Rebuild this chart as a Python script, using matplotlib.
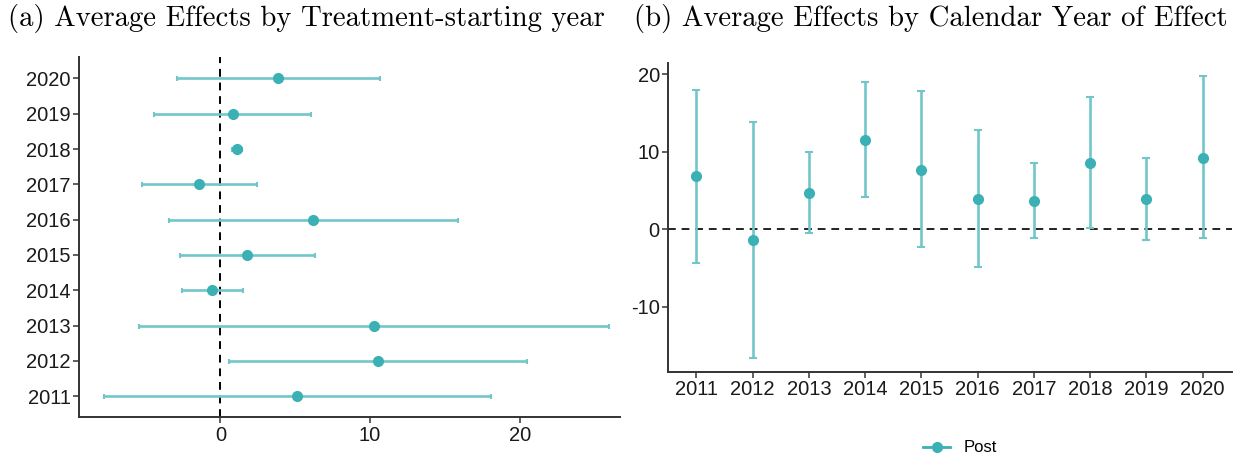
import matplotlib
matplotlib.use("Agg")
import matplotlib.pyplot as plt
from matplotlib.lines import Line2D

# ---- data: panel (a) ----
cohort_years = ["2011", "2012", "2013", "2014", "2015", "2016", "2017", "2018", "2019", "2020"]
cohort_est = [5.13, 10.53, 10.24, -0.53, 1.80, 6.22, -1.40, 1.14, 0.82, 3.87]
cohort_lo = [-7.80, 0.61, -5.45, -2.54, -2.67, -3.44, -5.21, 0.77, -4.41, -2.90]
cohort_hi = [18.07, 20.47, 25.95, 1.51, 6.33, 15.90, 2.43, 1.48, 6.09, 10.69]

# ---- data: panel (b) ----
cal_years = ["2011", "2012", "2013", "2014", "2015", "2016", "2017", "2018", "2019", "2020"]
cal_est = [6.84, -1.35, 4.65, 11.53, 7.70, 3.91, 3.66, 8.56, 3.87, 9.20]
cal_lo = [-4.30, -16.6, -0.52, 4.22, -2.35, -4.90, -1.10, 0.17, -1.40, -1.20]
cal_hi = [18.00, 13.90, 9.94, 18.97, 17.90, 12.86, 8.56, 17.10, 9.20, 19.83]

xticks_a = [0, 10, 20]
yticks_b = [-10, 0, 10, 20]

teal = "#3BB0B5"
bar_c = "#72C6CA"
axis_c = "#333333"
tick_lab_c = "#1a1a1a"
sans = ["Liberation Sans", "DejaVu Sans"]

W, H = 1240, 459
fig = plt.figure(figsize=(W / 100, H / 100), dpi=100)

def rect(l, t, r, b):
    return [l / W, 1 - b / H, (r - l) / W, (b - t) / H]

# ---------- panel (a) ----------
axa = fig.add_axes(rect(79, 57.3, 620, 417.3))
ya = list(range(len(cohort_years)))
xerr_a = [[e - lo for e, lo in zip(cohort_est, cohort_lo)],
          [hi - e for e, hi in zip(cohort_est, cohort_hi)]]
axa.axvline(0, color="black", ls=(0, (4, 3)), lw=1.4, zorder=1)
axa.errorbar(cohort_est, ya, xerr=xerr_a, fmt="none", ecolor=bar_c, elinewidth=1.9,
             capsize=1.8, capthick=1.5, zorder=2)
axa.plot(cohort_est, ya, "o", color=teal, ms=7, zorder=3)
axa.set_xlim(-9.44, 26.7)
axa.set_ylim(-0.6, 9.6)
axa.set_yticks(ya)
axa.set_yticklabels(cohort_years)
axa.set_xticks(xticks_a)
axa.set_xticklabels([str(v) for v in xticks_a])

# ---------- panel (b) ----------
axb = fig.add_axes(rect(668.2, 62.7, 1232, 371.7))
xb = list(range(len(cal_years)))
yerr_b = [[e - lo for e, lo in zip(cal_est, cal_lo)],
          [hi - e for e, hi in zip(cal_est, cal_hi)]]
axb.axhline(0, color="#222222", ls=(0, (4, 3)), lw=1.4, zorder=1)
axb.errorbar(xb, cal_est, yerr=yerr_b, fmt="none", ecolor=bar_c, elinewidth=1.9,
             capsize=3.0, capthick=1.5, zorder=2)
axb.plot(xb, cal_est, "o", color=teal, ms=7, zorder=3)
axb.set_xlim(-0.5, 9.52)
axb.set_ylim(-18.4, 21.5)
axb.set_xticks(xb)
axb.set_xticklabels(cal_years)
axb.set_yticks(yticks_b)
axb.set_yticklabels([str(v) for v in yticks_b])

for ax in (axa, axb):
    for s in ("top", "right"):
        ax.spines[s].set_visible(False)
    for s in ("left", "bottom"):
        ax.spines[s].set_color(axis_c)
        ax.spines[s].set_linewidth(1.4)
    ax.tick_params(axis="both", length=4, width=1.1, color=axis_c,
                   labelsize=14.5, labelcolor=tick_lab_c, pad=2)
    for lab in ax.get_xticklabels() + ax.get_yticklabels():
        lab.set_family(sans)
    ax.set_facecolor("white")

# ---------- titles ----------
fig.text(8 / W, 1 - 18 / H, "(a) Average Effects by Treatment-starting year",
         family=["cmr10", "DejaVu Serif"], fontsize=20.7, ha="left", va="center")
fig.text(634 / W, 1 - 18 / H, "(b) Average Effects by Calendar Year of Effect",
         family=["cmr10", "DejaVu Serif"], fontsize=20.7, ha="left", va="center")

# ---------- legend ----------
handle = Line2D([], [], color=teal, marker="o", ms=7, lw=2.0)
fig.legend([handle], ["Post"], loc="center", bbox_to_anchor=(960 / W, 1 - 448 / H),
           frameon=False, prop={"family": sans, "size": 12}, handlelength=1.6,
           handletextpad=0.8, borderaxespad=0)

fig.savefig("out.png", dpi=100, facecolor="white")
